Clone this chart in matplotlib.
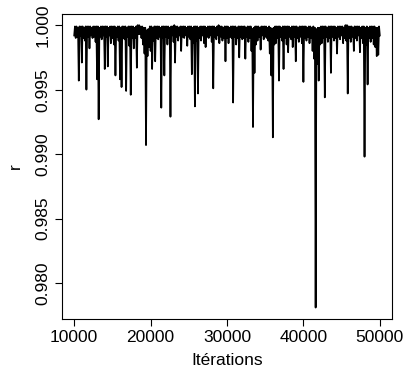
import numpy as np
import matplotlib
matplotlib.use("Agg")
import matplotlib.pyplot as plt

plt.rcParams['font.family'] = ['Liberation Sans', 'DejaVu Sans']

# trace of r: lower points every 200 iterations
# (10000, 10200, ...) and upper points in between (10100, 10300, ...)
iter_low = np.arange(10000, 50001, 200)
r_low = [
    0.9992, 0.9990, 0.9991, 0.9957, 0.9992, 0.9971, 0.9990, 0.9988, 0.9950, 0.9991,
    0.9982, 0.9992, 0.9990, 0.9991, 0.9987, 0.9958, 0.9927, 0.9991, 0.9989, 0.9992,
    0.9966, 0.9991, 0.9968, 0.9992, 0.9986, 0.9990, 0.9985, 0.9961, 0.9991, 0.9988,
    0.9958, 0.9952, 0.9990, 0.9989, 0.9949, 0.9991, 0.9984, 0.9946, 0.9990, 0.9982,
    0.9990, 0.9967, 0.9993, 0.9993, 0.9990, 0.9985, 0.9978, 0.9907, 0.9976, 0.9983,
    0.9980, 0.9966, 0.9988, 0.9972, 0.9990, 0.9989, 0.9991, 0.9936, 0.9990, 0.9961,
    0.9991, 0.9985, 0.9990, 0.9929, 0.9992, 0.9987, 0.9971, 0.9991, 0.9988, 0.9992,
    0.9980, 0.9991, 0.9990, 0.9992, 0.9984, 0.9991, 0.9989, 0.9962, 0.9986, 0.9937,
    0.9988, 0.9947, 0.9990, 0.9988, 0.9992, 0.9986, 0.9983, 0.9991, 0.9990, 0.9992,
    0.9987, 0.9951, 0.9991, 0.9989, 0.9992, 0.9986, 0.9991, 0.9988, 0.9990, 0.9972,
    0.9990, 0.9986, 0.9991, 0.9990, 0.9940, 0.9991, 0.9985, 0.9990, 0.9975, 0.9991,
    0.9989, 0.9990, 0.9974, 0.9991, 0.9987, 0.9990, 0.9980, 0.9921, 0.9963, 0.9985,
    0.9988, 0.9991, 0.9981, 0.9992, 0.9989, 0.9991, 0.9990, 0.9988, 0.9978, 0.9961,
    0.9913, 0.9985, 0.9986, 0.9990, 0.9957, 0.9991, 0.9988, 0.9966, 0.9990, 0.9985,
    0.9979, 0.9991, 0.9989, 0.9983, 0.9991, 0.9972, 0.9990, 0.9987, 0.9991, 0.9986,
    0.9956, 0.9990, 0.9988, 0.9991, 0.9986, 0.9990, 0.9980, 0.9974, 0.9781, 0.9970,
    0.9957, 0.9985, 0.9986, 0.9990, 0.9944, 0.9991, 0.9987, 0.9990, 0.9963, 0.9991,
    0.9988, 0.9990, 0.9978, 0.9991, 0.9989, 0.9992, 0.9986, 0.9990, 0.9988, 0.9947,
    0.9990, 0.9987, 0.9991, 0.9980, 0.9990, 0.9988, 0.9992, 0.9979, 0.9990, 0.9986,
    0.9898, 0.9985, 0.9954, 0.9990, 0.9987, 0.9990, 0.9985, 0.9983, 0.9976, 0.9977,
    0.9992,
]
iter_high = np.arange(10100, 50000, 200)
r_high = [
    0.9999, 0.9999, 0.9998, 0.9999, 0.9999, 0.9999, 0.9998, 0.9999, 0.9999, 0.9999,
    0.9999, 0.9998, 0.9999, 0.9999, 0.9999, 0.9999, 0.9998, 0.9999, 0.9999, 0.9999,
    0.9999, 0.9999, 0.9998, 0.9999, 0.9999, 0.9999, 0.9999, 0.9998, 0.9999, 0.9999,
    0.9998, 0.9999, 0.9999, 0.9999, 0.9998, 0.9999, 0.9999, 0.9999, 0.9999, 0.9998,
    0.9999, 1.0000, 1.0000, 0.9999, 0.9999, 0.9998, 0.9998, 0.9996, 0.9997, 0.9999,
    0.9999, 0.9998, 0.9999, 0.9999, 0.9999, 0.9999, 0.9998, 0.9999, 0.9999, 0.9999,
    0.9999, 0.9999, 0.9998, 0.9999, 0.9999, 1.0000, 0.9999, 0.9999, 0.9998, 0.9999,
    0.9999, 0.9999, 0.9999, 0.9998, 0.9999, 0.9999, 0.9999, 0.9998, 0.9999, 0.9999,
    0.9999, 0.9998, 0.9999, 0.9999, 0.9999, 0.9999, 0.9998, 0.9999, 0.9999, 0.9999,
    0.9999, 0.9999, 0.9998, 0.9999, 1.0000, 0.9999, 0.9999, 0.9998, 0.9999, 0.9999,
    0.9999, 0.9998, 0.9999, 0.9999, 0.9999, 0.9999, 0.9998, 0.9999, 0.9999, 0.9999,
    0.9999, 0.9999, 0.9998, 0.9999, 0.9999, 0.9999, 0.9997, 0.9998, 0.9999, 0.9999,
    0.9999, 0.9998, 0.9999, 0.9999, 0.9999, 0.9999, 0.9998, 0.9999, 0.9998, 0.9997,
    0.9998, 0.9999, 0.9999, 0.9999, 0.9999, 0.9998, 0.9999, 0.9999, 0.9999, 0.9999,
    0.9999, 0.9998, 0.9999, 0.9999, 0.9999, 0.9999, 0.9998, 0.9999, 0.9999, 0.9999,
    0.9999, 0.9999, 0.9998, 0.9999, 0.9999, 0.9998, 0.9999, 0.9998, 0.9997, 0.9998,
    0.9998, 0.9999, 0.9999, 0.9999, 0.9999, 0.9998, 0.9999, 0.9999, 0.9999, 0.9999,
    0.9999, 0.9998, 0.9999, 0.9999, 0.9999, 0.9999, 0.9998, 1.0000, 1.0000, 0.9999,
    0.9999, 0.9999, 0.9998, 0.9999, 0.9999, 0.9999, 0.9999, 0.9998, 0.9999, 0.9999,
    0.9998, 0.9999, 0.9998, 0.9999, 0.9999, 0.9999, 0.9999, 0.9998, 0.9998, 0.9999,
]
x_ticks = [10000, 20000, 30000, 40000, 50000]
y_ticks = [0.980, 0.985, 0.990, 0.995, 1.000]

# merge the two sets of points in iteration order
iterations = np.concatenate([iter_low, iter_high])
r_values = np.concatenate([r_low, r_high])
order = np.argsort(iterations)
iterations = iterations[order]
r_values = r_values[order]

fig = plt.figure(figsize=(4.05, 3.73), dpi=100)
ax = fig.add_axes([0.153, 0.145, 0.815, 0.818])

ax.plot(iterations, r_values, color='black', linewidth=1.25)

ax.set_xlim(8400, 51600)
ax.set_ylim(0.97722, 1.00088)
ax.set_xticks(x_ticks)
ax.set_xticklabels([str(t) for t in x_ticks])
ax.set_yticks(y_ticks)
ax.set_yticklabels(['%.3f' % t for t in y_ticks], rotation=90, va='center')
ax.tick_params(direction='out', length=5, width=0.8, labelsize=12.5, pad=3)

for s in ax.spines.values():
    s.set_linewidth(0.8)

ax.set_xlabel('Itérations', fontsize=12.5, labelpad=6)
ax.set_ylabel('r', fontsize=12.5, labelpad=9)

fig.savefig('out.png', dpi=100)
